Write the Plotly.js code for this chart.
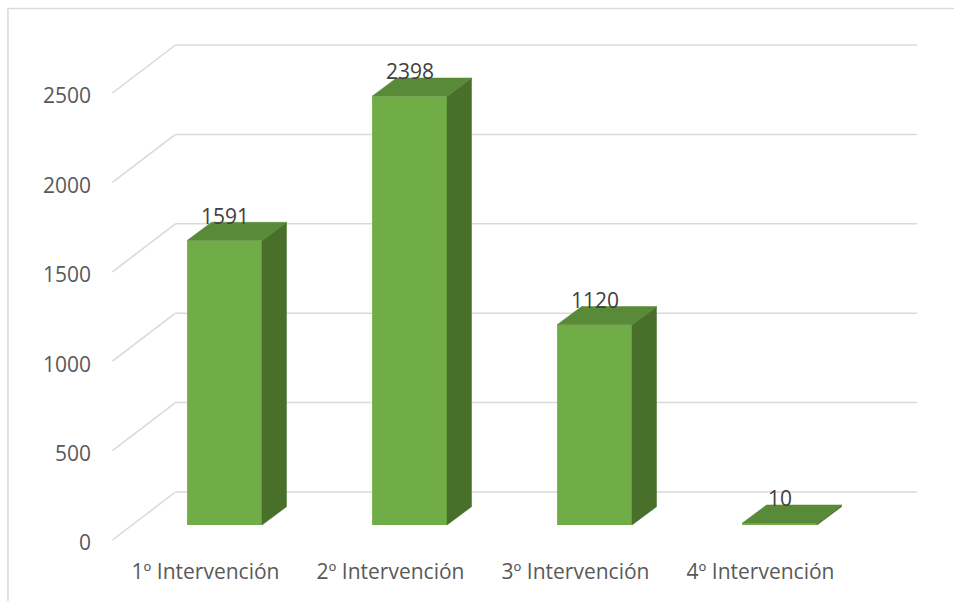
<!DOCTYPE html>
<html><head><meta charset="utf-8">
<script src="https://cdn.plot.ly/plotly-3.0.1.min.js"></script>
<style>html,body{margin:0;padding:0;background:#fff;} #chart{width:954px;height:601px;}</style>
</head><body><div id="chart"></div>
<script>
// ---- data ----
const categories = ['1º Intervención', '2º Intervención', '3º Intervención', '4º Intervención'];
const values = [1591, 2398, 1120, 10];
const yTickValues = [0, 500, 1000, 1500, 2000, 2500];
const yTickLabels = ['0', '500', '1000', '1500', '2000', '2500'];

// ---- pseudo-3D geometry (axis units) ----
const LIFT_Y = 84, LIFT_X = 0.103;      // bar plane offset from floor front edge
const BAR_W = 0.405;
const DEPTH_X = 0.1324, DEPTH_Y = 102;  // bar depth
const WALL_X = 0.3405, WALL_Y = 268.5;  // back wall offset
const WALL_LEFT = -0.503, WALL_RIGHT = 3.846;

const FONT = 'Open Sans, Liberation Sans, sans-serif';
const catPos = categories.map((c, i) => i);
const barX = catPos.map(p => p + LIFT_X);

// top and side faces as filled polygons (gaps separate polygons)
const topX = [], topY = [], sideX = [], sideY = [];
values.forEach((v, i) => {
  const xl = barX[i] - BAR_W / 2, xr = barX[i] + BAR_W / 2;
  const yb = LIFT_Y, yt = LIFT_Y + v;
  topX.push(xl, xr, xr + DEPTH_X, xl + DEPTH_X, xl, null);
  topY.push(yt, yt, yt + DEPTH_Y, yt + DEPTH_Y, yt, null);
  sideX.push(xr, xr, xr + DEPTH_X, xr + DEPTH_X, xr, null);
  sideY.push(yb, yt, yt + DEPTH_Y, yb + DEPTH_Y, yb, null);
});

const traces = [
  {type: 'bar', x: barX, y: values, base: LIFT_Y, width: BAR_W,
   marker: {color: '#70ad47', line: {width: 0}}, hoverinfo: 'skip', showlegend: false},
  {type: 'scatter', mode: 'lines', x: sideX, y: sideY, fill: 'toself', fillcolor: '#48702b',
   line: {width: 0.5, color: '#48702b'}, hoverinfo: 'skip', showlegend: false},
  {type: 'scatter', mode: 'lines', x: topX, y: topY, fill: 'toself', fillcolor: '#588a37',
   line: {width: 0.5, color: '#588a37'}, hoverinfo: 'skip', showlegend: false}
];

const gridColor = '#d9d9d9';
const shapes = [];
yTickValues.forEach(v => {
  shapes.push({type: 'line', xref: 'x', yref: 'y', layer: 'below',
    x0: WALL_LEFT, y0: v, x1: WALL_LEFT + WALL_X, y1: v + WALL_Y,
    line: {color: gridColor, width: 1.5}});
  shapes.push({type: 'line', xref: 'x', yref: 'y', layer: 'below',
    x0: WALL_LEFT + WALL_X, y0: v + WALL_Y, x1: WALL_RIGHT, y1: v + WALL_Y,
    line: {color: gridColor, width: 1.5}});
});
// chart outer border
shapes.push({type: 'rect', xref: 'paper', yref: 'paper', layer: 'below',
  x0: -0.1229, y0: -0.3, x1: 1.3, y1: 1.0624, line: {color: '#d9d9d9', width: 1.5}});

const annotations = values.map((v, i) => ({
  x: barX[i], y: LIFT_Y + v, xref: 'x', yref: 'y', text: String(v), showarrow: false,
  yanchor: 'middle', yshift: 25, font: {family: FONT, size: 21, color: '#404040'}
}));

const layout = {
  width: 954, height: 601,
  margin: {l: 108, r: 32, t: 40, b: 56},
  paper_bgcolor: '#ffffff', plot_bgcolor: 'rgba(0,0,0,0)',
  showlegend: false,
  xaxis: {range: [-0.527, 3.873], tickvals: catPos, ticktext: categories,
    showgrid: false, zeroline: false, showline: false, ticks: '',
    ticklabelstandoff: 12, tickfont: {family: FONT, size: 21, color: '#595959'}, fixedrange: true},
  yaxis: {range: [-27.96, 2796.4], tickvals: yTickValues, ticktext: yTickLabels,
    showgrid: false, zeroline: false, showline: false, ticks: '',
    ticklabelstandoff: 16, ticklabelshift: 3,
    tickfont: {family: FONT, size: 21, color: '#595959'}, fixedrange: true},
  shapes: shapes, annotations: annotations
};

Plotly.newPlot('chart', traces, layout, {displayModeBar: false, staticPlot: true});
</script>
</body></html>
